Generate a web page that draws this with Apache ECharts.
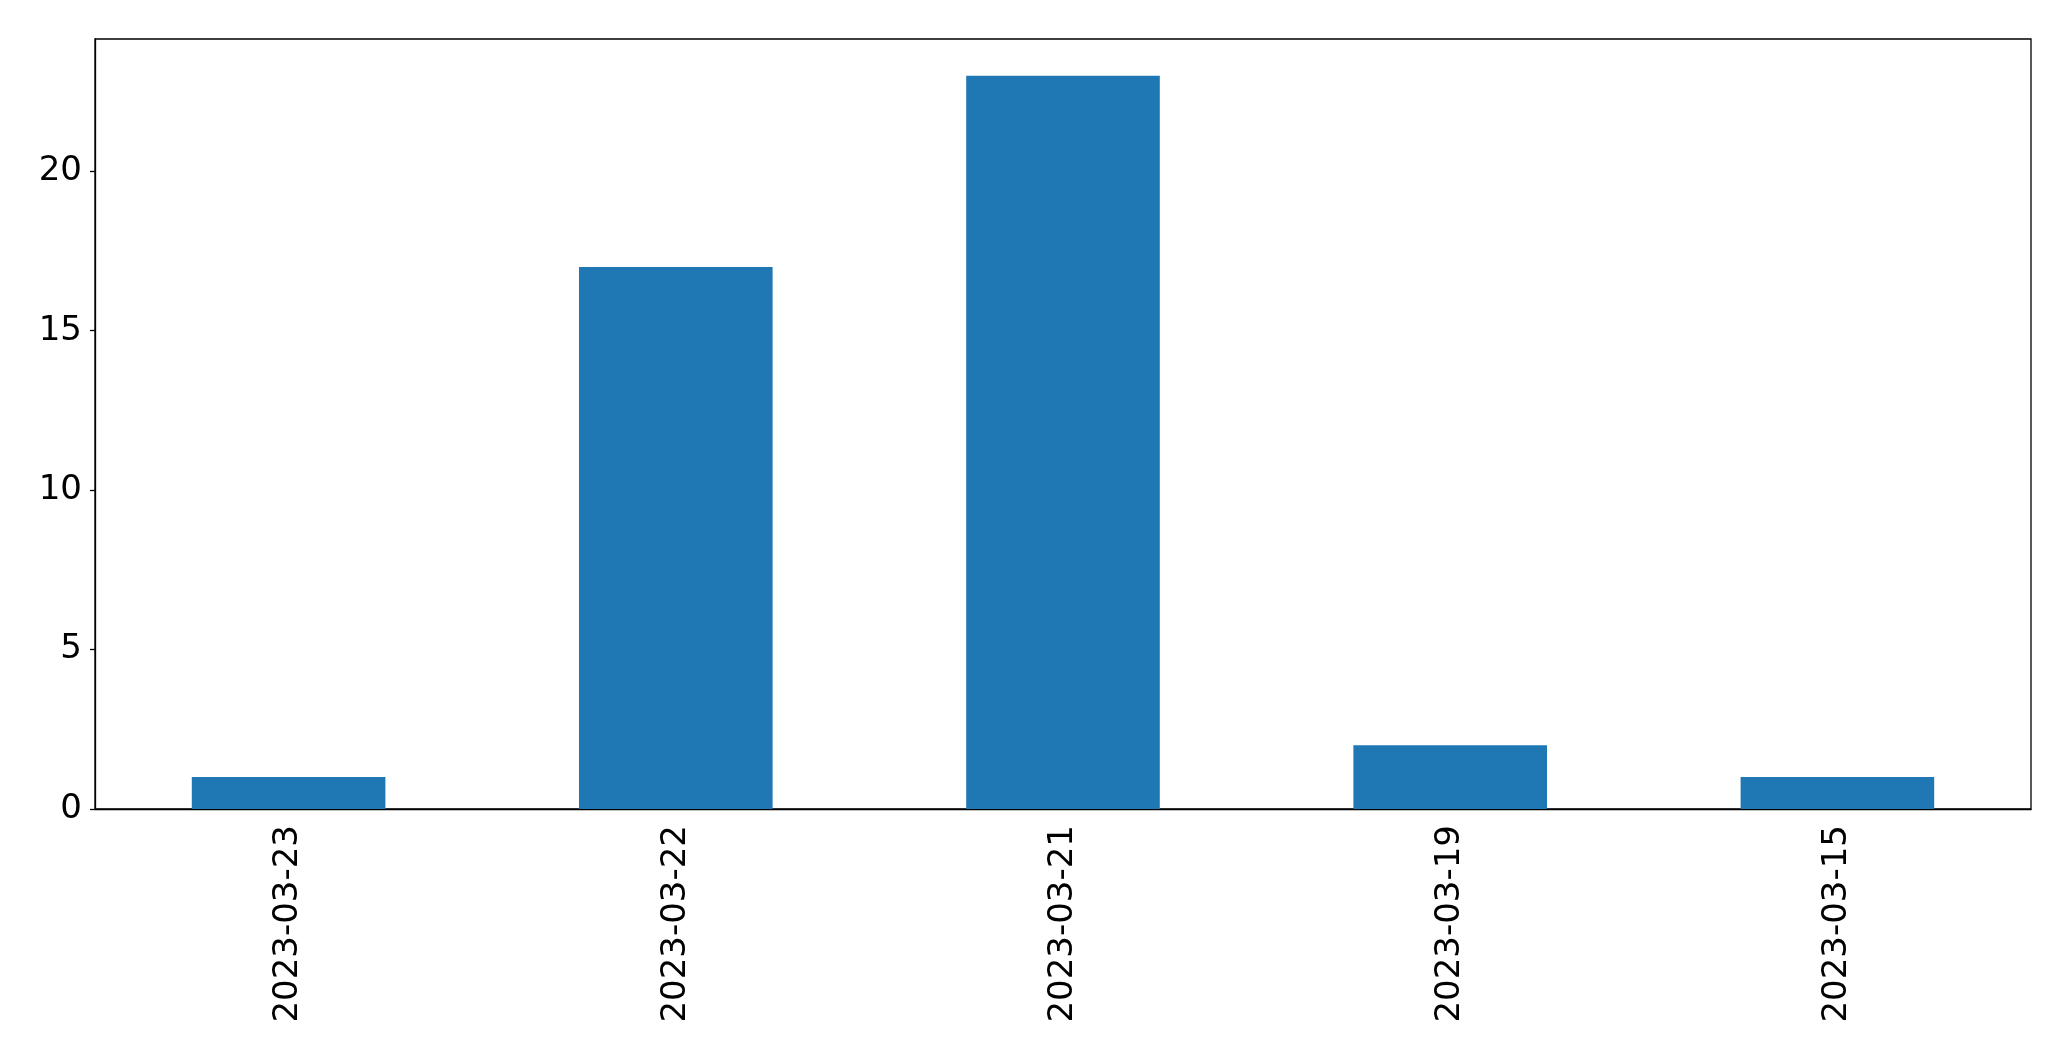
<!DOCTYPE html>
<html>
<head>
<meta charset="utf-8">
<script src="https://cdn.jsdelivr.net/npm/echarts@6/dist/echarts.min.js"></script>
<style>html,body{margin:0;padding:0;background:#fff}#c{width:2071px;height:1061px}</style>
</head>
<body>
<div id="c"></div>
<script>
const categories = ["2023-03-23", "2023-03-22", "2023-03-21", "2023-03-19", "2023-03-15"];
const counts = [1, 17, 23, 2, 1];
const yTicks = [0, 5, 10, 15, 20];

const chart = echarts.init(document.getElementById('c'), null, {renderer: 'canvas'});
chart.setOption({
  animation: false,
  backgroundColor: '#fff',
  grid: {left: 95, right: 40, top: 39, bottom: 252, show: true, borderColor: '#000', borderWidth: 1.3, backgroundColor: 'transparent'},
  xAxis: {
    type: 'category',
    data: categories,
    axisLine: {lineStyle: {color: '#000', width: 1.3}},
    axisTick: {alignWithLabel: true, length: 5, lineStyle: {color: '#000', width: 1.3}},
    axisLabel: {rotate: 90, margin: 16, fontSize: 34, color: '#000', fontFamily: 'DejaVu Sans'}
  },
  yAxis: {
    type: 'value',
    min: 0,
    max: 24.15,
    interval: 5,
    splitLine: {show: false},
    axisLine: {show: true, lineStyle: {color: '#000', width: 1.3}},
    axisTick: {show: true, length: 5, customValues: yTicks, lineStyle: {color: '#000', width: 1.3}},
    axisLabel: {margin: 13, fontSize: 34, color: '#000', fontFamily: 'DejaVu Sans', customValues: yTicks}
  },
  series: [{
    type: 'bar',
    data: counts,
    barWidth: '50%',
    itemStyle: {color: '#1f77b4'}
  }]
});
</script>
</body>
</html>
